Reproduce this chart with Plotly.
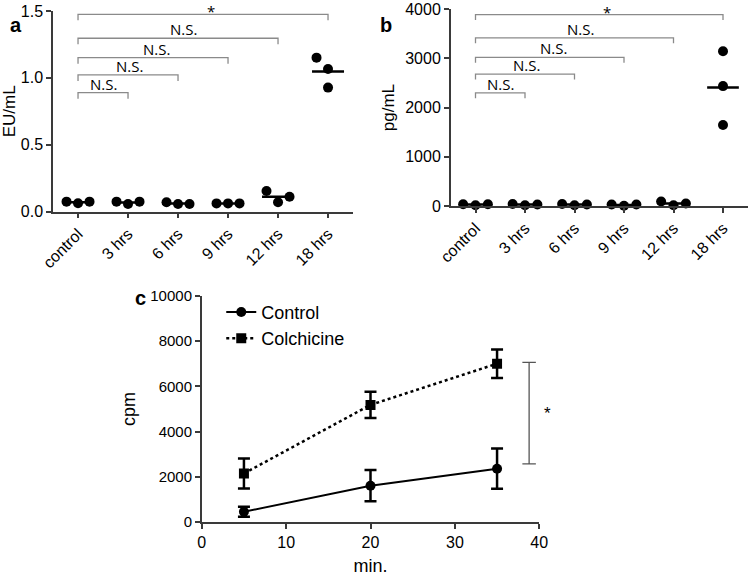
import plotly.graph_objects as go

# ---- data -------------------------------------------------------------
groups = ["control", "3 hrs", "6 hrs", "9 hrs", "12 hrs", "18 hrs"]

# panel a: endotoxin (EU/mL), three replicates per group
eu_values = [
    [0.075, 0.063, 0.075],
    [0.075, 0.057, 0.075],
    [0.070, 0.057, 0.057],
    [0.062, 0.062, 0.062],
    [0.154, 0.070, 0.112],
    [1.151, 1.066, 0.927],
]
eu_offsets = [
    [-0.23, 0, 0.23],
    [-0.23, 0, 0.23],
    [-0.23, 0, 0.23],
    [-0.23, 0, 0.23],
    [-0.23, 0, 0.23],
    [-0.23, 0, 0],
]
eu_brackets = [0.889, 1.022, 1.151, 1.296, 1.475]

# panel b: cytokine (pg/mL)
pg_values = [
    [35, 15, 35],
    [40, 15, 30],
    [40, 15, 30],
    [30, 5, 30],
    [90, 15, 50],
    [3147, 2437, 1645],
]
pg_offsets = [
    [-0.25, 0, 0.25],
    [-0.25, 0, 0.25],
    [-0.25, 0, 0.25],
    [-0.25, 0, 0.25],
    [-0.25, 0, 0.25],
    [0, 0, 0],
]
pg_brackets = [2300, 2680, 3020, 3418, 3892]

bracket_labels = ["N.S.", "N.S.", "N.S.", "N.S.", "*"]

# panel c: uptake over time
minutes = [5, 20, 35]
control_cpm = [460, 1610, 2360]
control_err = [220, 690, 890]
colch_cpm = [2150, 5180, 7000]
colch_err = [660, 580, 630]
sig_bar = [2570, 7060]

AXIS_COLOR = "#3a3a3a"
BRACKET_COLOR = "#8a8a8a"
FONT = "Liberation Sans, Arial, sans-serif"


def dot_panel(fig, values, offsets, brackets, leg, xa, ya):
    xs, ys, mx, my = [], [], [], []
    for i, (vals, offs) in enumerate(zip(values, offsets)):
        xs += [i + o for o in offs]
        ys += vals
        m = sum(vals) / len(vals)
        mx += [i - 0.32, i + 0.32, None]
        my += [m, m, None]
    fig.add_trace(go.Scatter(x=mx, y=my, mode="lines", xaxis=xa, yaxis=ya,
                             line=dict(color="black", width=2.5), showlegend=False))
    fig.add_trace(go.Scatter(x=xs, y=ys, mode="markers", xaxis=xa, yaxis=ya,
                             marker=dict(color="black", size=10), showlegend=False,
                             cliponaxis=False))
    bx, by = [], []
    for j, h in enumerate(brackets):
        bx += [0, 0, j + 1, j + 1, None]
        by += [h - leg, h, h, h - leg, None]
    fig.add_trace(go.Scatter(x=bx, y=by, mode="lines", xaxis=xa, yaxis=ya,
                             line=dict(color=BRACKET_COLOR, width=1.3), showlegend=False,
                             cliponaxis=False))
    for j, h in enumerate(brackets):
        star = bracket_labels[j] == "*"
        fig.add_annotation(x=(j + 1) / 2 + 0.15 * j / 4, y=h, xref=xa, yref=ya,
                           text=bracket_labels[j], showarrow=False, yanchor="bottom",
                           yshift=-9 if star else -3,
                           font=dict(family="Open Sans, sans-serif", size=15, color="black"))


fig = go.Figure()
dot_panel(fig, eu_values, eu_offsets, eu_brackets, 0.045, "x", "y")
dot_panel(fig, pg_values, pg_offsets, pg_brackets, 110, "x2", "y2")

# panel c
fig.add_trace(go.Scatter(
    x=minutes, y=control_cpm, name="Control", mode="lines+markers", xaxis="x3", yaxis="y3",
    line=dict(color="black", width=2), marker=dict(symbol="circle", size=10, color="black"),
    error_y=dict(type="data", array=control_err, color="black", thickness=2.5, width=6),
))
fig.add_trace(go.Scatter(
    x=minutes, y=colch_cpm, name="Colchicine", mode="lines+markers", xaxis="x3", yaxis="y3",
    line=dict(color="black", width=2.5, dash="dot"),
    marker=dict(symbol="square", size=10, color="black"),
    error_y=dict(type="data", array=colch_err, color="black", thickness=2.5, width=6),
))
fig.add_trace(go.Scatter(
    x=[38.8, 38.8, None, 38.0, 39.6, None, 38.0, 39.6],
    y=[sig_bar[0], sig_bar[1], None, sig_bar[0], sig_bar[0], None, sig_bar[1], sig_bar[1]],
    mode="lines", xaxis="x3", yaxis="y3", line=dict(color="#555555", width=1.3),
    showlegend=False, cliponaxis=False,
))
fig.add_annotation(x=1.04, y=(sig_bar[0] + sig_bar[1]) / 2, xref="x3 domain", yref="y3",
                   text="*", showarrow=False, font=dict(size=17, color="black"))

axis_common = dict(showline=True, linecolor=AXIS_COLOR, linewidth=1.5, ticks="outside",
                   ticklen=5, tickwidth=1.5, tickcolor=AXIS_COLOR, showgrid=False,
                   zeroline=False, automargin=False,
                   tickfont=dict(family=FONT, size=16, color="black"))

cat_axis = dict(axis_common, tickmode="array", tickvals=list(range(len(groups))),
                ticktext=groups, tickangle=-45, range=[-0.5, 5.5],
                tickfont=dict(family=FONT, size=16, color="black"))

fig.update_layout(
    width=750, height=576,
    margin=dict(l=0, r=0, t=0, b=0),
    plot_bgcolor="white", paper_bgcolor="white",
    font=dict(family=FONT, color="black"),
    xaxis=dict(cat_axis, domain=[0.0707, 0.4707], anchor="y"),
    yaxis=dict(axis_common, domain=[0.6325, 0.981], range=[0, 1.5], tickvals=[0, 0.5, 1.0, 1.5],
               ticktext=["0.0", "0.5", "1.0", "1.5"], anchor="x",
               title=dict(text="EU/mL", font=dict(size=17), standoff=6)),
    xaxis2=dict(cat_axis, domain=[0.601, 0.997], anchor="y2"),
    yaxis2=dict(axis_common, domain=[0.6424, 0.984], range=[0, 4000], dtick=1000, anchor="x2",
                title=dict(text="pg/mL", font=dict(size=17), standoff=6)),
    xaxis3=dict(axis_common, domain=[0.269, 0.719], range=[0, 40], dtick=10, anchor="y3",
                tickfont=dict(family=FONT, size=16, color="black"),
                title=dict(text="min.", font=dict(size=18), standoff=10)),
    yaxis3=dict(axis_common, domain=[0.0935, 0.4865], range=[0, 10000], dtick=2000, anchor="x3",
                tickformat="d", tickfont=dict(family=FONT, size=15, color="black"),
                title=dict(text="cpm", font=dict(size=18), standoff=10)),
    legend=dict(x=0.295, y=0.49, xanchor="left", yanchor="top", bgcolor="rgba(0,0,0,0)",
                font=dict(family=FONT, size=18, color="black"), itemwidth=30),
)

for txt, px_, py_ in [("a", 8, 12), ("b", 386, 12), ("c", 133, 298)]:
    fig.add_annotation(x=px_ / 750, y=1 - py_ / 576, xref="paper", yref="paper", text=f"<b>{txt}</b>",
                       showarrow=False, font=dict(family=FONT, size=20, color="black"))

# the page body has a default 8px margin; drop it so the figure sits at the corner
fig.write_html("out.html", config={"displayModeBar": False},
               post_script="document.body.style.margin = '0';")
